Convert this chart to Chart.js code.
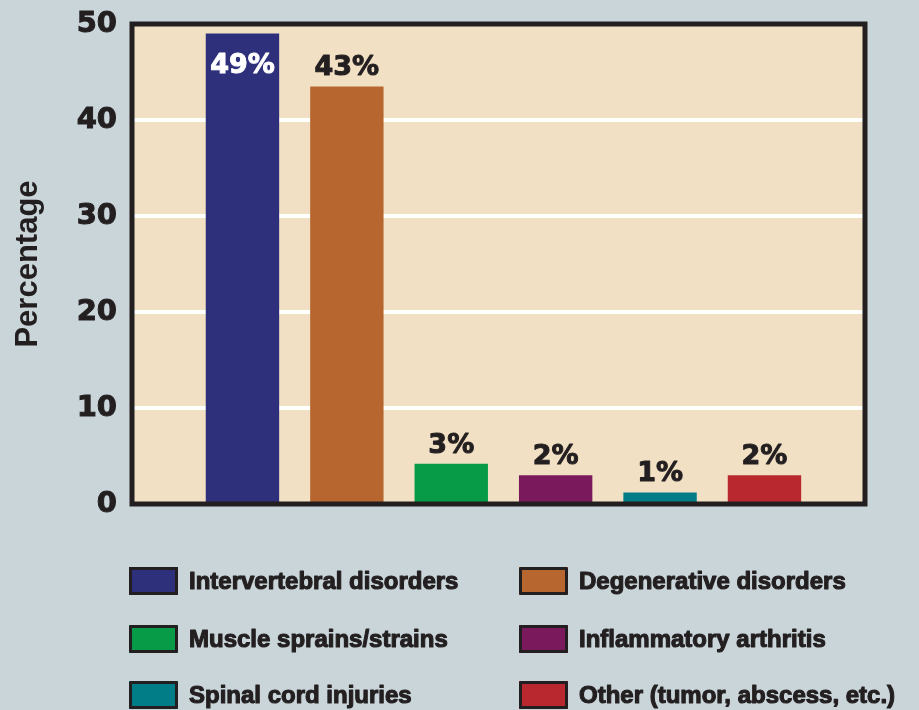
<!DOCTYPE html>
<html>
<head>
<meta charset="utf-8">
<script src="https://cdn.jsdelivr.net/npm/chart.js@4"></script>
<style>
  html, body { margin: 0; padding: 0; background: #c9d5d9; }
  #wrap { width: 919px; height: 710px; }
</style>
</head>
<body>
<div id="wrap"><canvas id="chart"></canvas></div>
<script>
const categories = [
    'Intervertebral disorders',
    'Degenerative disorders',
    'Muscle sprains/strains',
    'Inflammatory arthritis',
    'Spinal cord injuries',
    'Other (tumor, abscess, etc.)'
];
const values = [49, 43.5, 4.2, 3, 1.2, 3];
const valueLabels = ['49%', '43%', '3%', '2%', '1%', '2%'];
const colours = ['#2e307b', '#b8662f', '#079b48', '#7a1a5c', '#007d87', '#b8282e'];
const yTicks = [0, 10, 20, 30, 40, 50];

const ink = '#231f20';
const beige = '#f1e0c3';

// beige plot box + dark frame
const plotBox = {
    id: 'plotBox',
    beforeDraw(chart) {
        const {ctx, chartArea: a} = chart;
        ctx.save();
        ctx.fillStyle = '#c9d5d9';
        ctx.fillRect(0, 0, chart.width, chart.height);
        ctx.fillStyle = beige;
        ctx.fillRect(a.left, a.top, a.right - a.left, a.bottom - a.top);
        ctx.restore();
    },
    afterDraw(chart) {
        const {ctx, chartArea: a} = chart;
        ctx.save();
        ctx.strokeStyle = ink;
        ctx.lineWidth = 5;
        ctx.strokeRect(a.left, a.top, a.right - a.left, a.bottom - a.top);
        ctx.restore();
    }
};

// heavier text: fill plus a thin stroke of the same colour
function heavyText(ctx, text, x, y, colour, w) {
    ctx.fillStyle = colour;
    ctx.strokeStyle = colour;
    ctx.lineWidth = w;
    ctx.lineJoin = 'round';
    ctx.strokeText(text, x, y);
    ctx.fillText(text, x, y);
}

const barLabels = {
    id: 'barLabels',
    afterDatasetsDraw(chart) {
        const {ctx} = chart;
        const meta = chart.getDatasetMeta(0);
        ctx.save();
        ctx.font = 'bold 27px "DejaVu Sans"';
        ctx.textAlign = 'center';
        ctx.textBaseline = 'alphabetic';
        meta.data.forEach((bar, i) => {
            if (i === 0) {
                heavyText(ctx, valueLabels[i], bar.x, bar.y + 39, '#ffffff', 1);
            } else {
                heavyText(ctx, valueLabels[i], bar.x, bar.y - 11, ink, 1);
            }
        });
        ctx.restore();
    }
};

// two-column legend under the plot
const boxLegend = {
    id: 'boxLegend',
    afterDraw(chart) {
        const {ctx} = chart;
        const cols = [129, 519];
        const rows = [581, 639, 695];
        ctx.save();
        ctx.font = 'bold 24px "Liberation Sans"';
        ctx.textBaseline = 'middle';
        categories.forEach((name, i) => {
            const x = cols[i % 2];
            const y = rows[Math.floor(i / 2)];
            ctx.fillStyle = colours[i];
            ctx.fillRect(x, y - 14, 49, 28);
            ctx.strokeStyle = ink;
            ctx.lineWidth = 3;
            ctx.strokeRect(x + 1.5, y - 12.5, 46, 25);
            heavyText(ctx, name, x + 60, y + 1, ink, 1.1);
        });
        ctx.restore();
    }
};

const data = {
    datasets: [{
        label: 'Percentage',
        data: values.map((v, i) => ({x: i, y: v})),
        backgroundColor: colours,
        borderWidth: 0,
        barPercentage: 0.73,
        categoryPercentage: 1
    }]
};

const config = {
    type: 'bar',
    data: data,
    options: {
        responsive: true,
        maintainAspectRatio: false,
        animation: false,
        layout: {
            padding: {top: 24, right: 54, bottom: 206, left: 0}
        },
        plugins: {
            legend: {display: false},
            tooltip: {enabled: false}
        },
        scales: {
            x: {
                type: 'linear',
                min: -1.058,
                max: 5.963,
                display: false,
                offset: false
            },
            y: {
                min: 0,
                max: 50,
                afterFit: (scale) => {
                    scale.width = 132;
                    scale.paddingTop = 0;
                    scale.paddingBottom = 0;
                },
                afterBuildTicks: (scale) => { scale.ticks = yTicks.map(v => ({value: v})); },
                border: {display: false},
                grid: {
                    color: '#ffffff',
                    lineWidth: 4,
                    drawTicks: false
                },
                ticks: {
                    padding: 15,
                    color: ink,
                    textStrokeColor: ink,
                    textStrokeWidth: 1,
                    font: {family: 'DejaVu Sans', weight: 'bold', size: 29}
                },
                title: {
                    display: true,
                    text: 'Percentage',
                    color: ink,
                    padding: {top: 10, bottom: 0},
                    font: {family: 'Liberation Sans', weight: 'bold', size: 31}
                }
            }
        }
    },
    plugins: [plotBox, barLabels, boxLegend]
};

new Chart(document.getElementById('chart'), config);
</script>
</body>
</html>
